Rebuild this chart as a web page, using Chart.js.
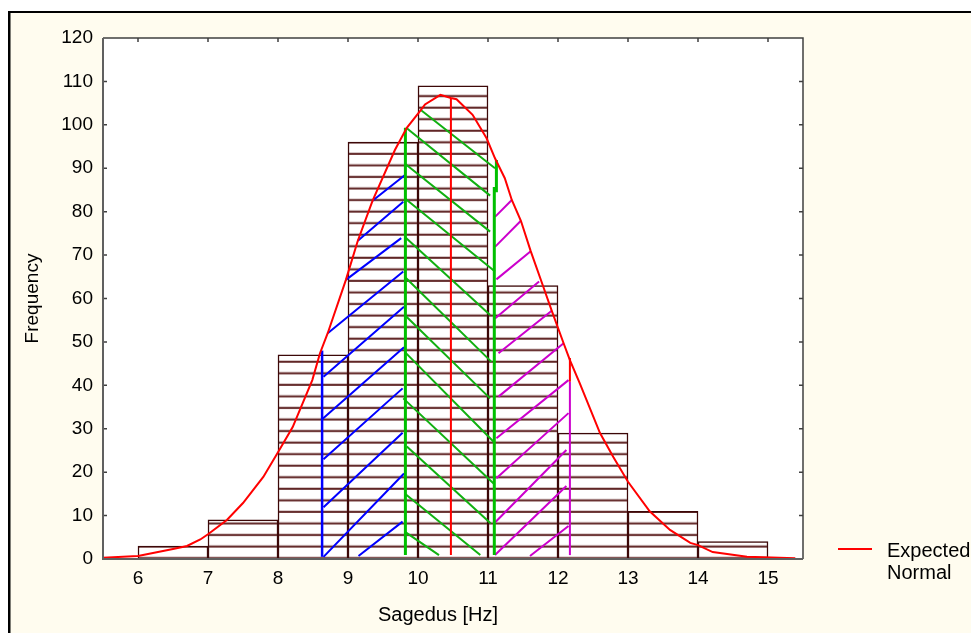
<!DOCTYPE html>
<html>
<head>
<meta charset="utf-8">
<script src="https://cdn.jsdelivr.net/npm/chart.js@4.4.1/dist/chart.umd.min.js"></script>
<style>
html,body{margin:0;padding:0;background:#fff;}
#wrap{width:971px;height:633px;}
</style>
</head>
<body>
<div id="wrap"><canvas id="myChart" width="971" height="633"></canvas></div>
<script>
// histogram classes (centre of each 1 Hz bin) and counts
let binCentres=[6.5,7.5,8.5,9.5,10.5,11.5,12.5,13.5,14.5];
let counts=[3,9,47,96,109,63,29,11,4];
let xTicks=[6,7,8,9,10,11,12,13,14,15];
let yTicks=[0,10,20,30,40,50,60,70,80,90,100,110,120];

// expected normal curve
let normX=[5.5,6,6.5,6.7,6.89,7,7.27,7.5,7.79,8,8.21,8.49,8.6,8.71,8.97,9.14,9.35,9.67,9.84,10.04,10.1,10.32,10.47,10.55,10.78,10.98,11.1,11.24,11.34,11.47,11.61,11.79,11.91,12.08,12.17,12.31,12.6,12.79,13,13.31,13.6,13.89,14,14.21,14.7,15.39];
let normY=[0.3,0.7,2.3,3,4.5,5.7,9,12.9,18.9,24.6,30.4,41.2,47.4,52,64.3,73.3,82.5,94.2,99.3,103.4,104.7,106.9,106.2,105.9,102.3,96.9,92.3,87.7,82.7,77.9,70.9,62.7,57.2,49.7,45.8,40.5,29,23.5,17.8,11,6.7,3.7,3.2,1.6,0.5,0.2];

// vertical marker lines: x, from, to
let blueVert=[[8.63,0.5,48]];
let greenVert=[[9.82,0.9,99.3],[11.09,0.9,85.7],[11.12,84.5,91.9]];
let redVert=[[10.47,0.9,106.2],[12.17,40.8,46.3]];
let magVert=[[12.17,0.9,40.8]];

// hatch strokes: x1,y1,x2,y2
let blueHatch=[[9.35,82.5,9.81,88.4],[9.14,73.3,9.79,82.3],[8.97,64.3,9.76,73.9],[8.71,52.0,9.79,66.2],[8.65,42.0,9.80,58.1],[8.63,32.2,9.80,48.8],[8.65,23.0,9.78,39.3],[8.65,11.9,9.78,29.1],[8.65,0.5,9.80,19.7],[9.15,0.7,9.78,8.6]];
let greenHatch=[[10.04,103.4,11.1,90.0],[9.84,99.2,11.03,83.7],[9.81,91.1,11.03,75.4],[9.81,83.1,11.1,66.2],[9.81,74.2,11.03,56.2],[9.81,65.0,11.05,45.4],[9.81,56.2,11.03,37.0],[9.81,47.7,11.08,27.0],[9.79,37.0,11.08,17.4],[9.84,25.9,11.04,8.2],[9.81,15.1,10.89,0.9],[9.81,6.3,10.30,0.9]];
let magHatch=[[11.1,78.8,11.34,82.7],[11.1,71.9,11.47,77.9],[11.12,64.4,11.61,70.9],[11.1,55.4,11.73,63.9],[11.15,47.4,11.91,57.2],[11.15,37.4,12.08,49.7],[11.12,27.8,12.15,41.2],[11.12,18.6,12.15,33.6],[11.1,8.4,12.12,25.1],[11.1,0.9,12.12,16.8],[11.6,0.7,12.15,7.6]];

Chart.defaults.font.family='"Liberation Sans", Arial, sans-serif';
Chart.defaults.color='#000';

function segs(list){
    let out=[];
    list.forEach(s=>{
        out.push({x:s[0],y:s[1]},{x:s[2],y:s[3]},{x:s[2],y:null});
    });
    return out;
}
function verts(list){
    return segs(list.map(v=>[v[0],v[1],v[0],v[2]]));
}
function lineSet(data,color,width,order){
    return {type:'line',data:data,borderColor:color,borderWidth:width,pointRadius:0,
        fill:false,tension:0,spanGaps:false,order:order};
}

// horizontal hatching used inside the bars
function barHatch(){
    let c=document.createElement('canvas');
    c.width=8;c.height=12;
    let g=c.getContext('2d');
    g.fillStyle='#fff';g.fillRect(0,0,8,12);
    g.fillStyle='#9a7070';g.fillRect(0,9.6,8,2.6);
    g.fillStyle='#5a1e1e';g.fillRect(0,10.1,8,1.5);
    let p=g.createPattern(c,'repeat');
    p.setTransform(new DOMMatrix([1,0,0,11.55/12,0,4.8]));
    return p;
}

const framePlugin={
    id:'frame',
    beforeDraw(chart){
        const ctx=chart.ctx,a=chart.chartArea;
        ctx.save();
        ctx.fillStyle='#fff';ctx.fillRect(0,0,chart.width,chart.height);
        ctx.fillStyle='#fffcef';ctx.fillRect(10,13,chart.width-10,chart.height-13);
        ctx.fillStyle='#000';
        ctx.fillRect(8,11,2.5,chart.height-11);
        ctx.fillRect(8,11,chart.width-8,2);
        ctx.fillStyle='#fff';ctx.fillRect(a.left,a.top,a.right-a.left,a.bottom-a.top);
        ctx.restore();
    },
    afterDraw(chart){
        const ctx=chart.ctx,a=chart.chartArea;
        const xs=chart.scales.x,ys=chart.scales.y;
        ctx.save();
        ctx.strokeStyle='#404040';ctx.lineWidth=1.5;
        ctx.beginPath();
        ctx.moveTo(a.left,a.top);ctx.lineTo(a.right,a.top);ctx.lineTo(a.right,a.bottom);
        xTicks.forEach(v=>{let p=xs.getPixelForValue(v);ctx.moveTo(p,a.top);ctx.lineTo(p,a.top+4);});
        yTicks.forEach(v=>{let p=ys.getPixelForValue(v);
            ctx.moveTo(a.left,p);ctx.lineTo(a.left+4,p);
            ctx.moveTo(a.right,p);ctx.lineTo(a.right-4,p);});
        ctx.stroke();
        ctx.strokeStyle='#606060';ctx.lineWidth=2;
        ctx.beginPath();
        ctx.moveTo(a.left,a.top);ctx.lineTo(a.left,a.bottom);ctx.lineTo(a.right,a.bottom);
        ctx.stroke();
        // x axis title
        ctx.fillStyle='#000';
        ctx.font='20px "Liberation Sans", Arial, sans-serif';
        ctx.textAlign='center';ctx.textBaseline='alphabetic';
        ctx.fillText('Sagedus [Hz]',438,621);
        // legend
        ctx.strokeStyle='#ff0000';ctx.lineWidth=2;
        ctx.beginPath();ctx.moveTo(838,549);ctx.lineTo(872,549);ctx.stroke();
        ctx.textAlign='left';
        ctx.fillText('Expected',887,557);
        ctx.fillText('Normal',887,579);
        ctx.restore();
    }
};

const ctx=document.getElementById('myChart').getContext('2d');
const myChart=new Chart(ctx,{
    type:'bar',
    data:{
        datasets:[
            lineSet(normX.map((x,i)=>({x:x,y:normY[i]})),'#ff0000',2,0),
            lineSet(verts(greenVert),'#00c000',3,1),
            lineSet(verts(redVert),'#ff0000',2,1),
            lineSet(verts(blueVert),'#0000ff',2.5,1),
            lineSet(verts(magVert),'#cc00cc',2,1),
            lineSet(segs(blueHatch),'#0000ff',2,2),
            lineSet(segs(greenHatch),'#11b011',2,2),
            lineSet(segs(magHatch),'#cc00cc',2,2),
            {
                type:'bar',
                label:'Frequency',
                data:binCentres.map((x,i)=>({x:x,y:counts[i]})),
                backgroundColor:barHatch(),
                borderColor:'#3c0808',
                borderWidth:1.5,
                barPercentage:1,
                categoryPercentage:1,
                grouped:false,
                order:3
            }
        ]
    },
    options:{
        responsive:false,
        animation:false,
        devicePixelRatio:1,
        layout:{padding:{left:0,top:38,right:168,bottom:0}},
        plugins:{legend:{display:false},tooltip:{enabled:false}},
        scales:{
            x:{
                type:'linear',min:5.5,max:15.5,offset:false,
                afterBuildTicks:s=>{s.ticks=xTicks.map(v=>({value:v}));},
                afterFit:s=>{s.height=74;},
                grid:{display:false,offset:false,drawTicks:false},
                border:{display:false},
                ticks:{font:{size:19},padding:8,maxRotation:0,autoSkip:false,color:'#000'}
            },
            y:{
                type:'linear',min:0,max:120,
                afterBuildTicks:s=>{s.ticks=yTicks.map(v=>({value:v}));},
                afterFit:s=>{s.width=103;},
                grid:{display:false,drawTicks:false},
                border:{display:false},
                ticks:{font:{size:19},padding:10,color:'#000'},
                title:{display:true,text:'Frequency',font:{size:19},color:'#000',padding:{top:21,bottom:0}}
            }
        }
    },
    plugins:[framePlugin]
});
</script>
</body>
</html>
